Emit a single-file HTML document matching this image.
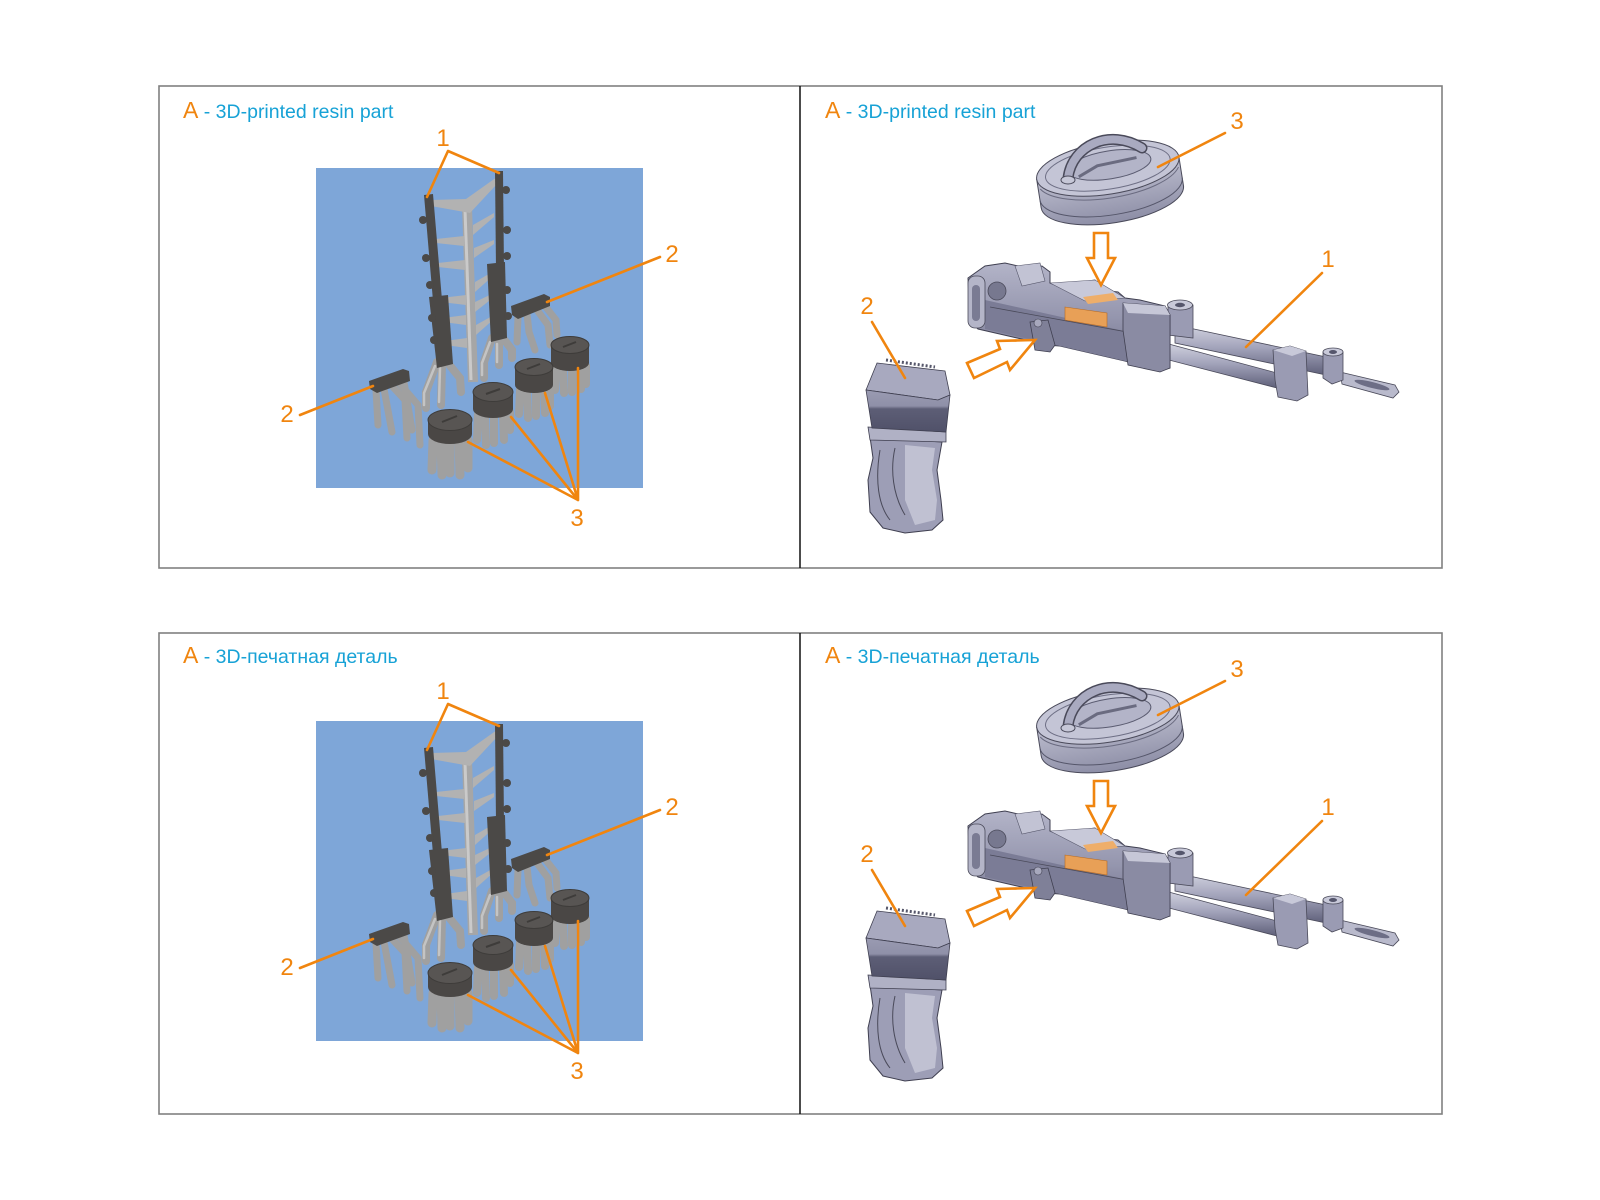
<!DOCTYPE html>
<html><head><meta charset="utf-8"><style>
html,body{margin:0;padding:0;background:#fff;}
svg{display:block;}
text{font-family:"Liberation Sans","DejaVu Sans",sans-serif;}
</style></head><body>
<svg width="1600" height="1200" viewBox="0 0 1600 1200" xmlns="http://www.w3.org/2000/svg">
<defs>
<linearGradient id="tube" x1="0" y1="0" x2="0" y2="1"><stop offset="0" stop-color="#d2d3e0"/><stop offset="0.45" stop-color="#a3a4bb"/><stop offset="1" stop-color="#5f607a"/></linearGradient>
<linearGradient id="front" x1="0" y1="0" x2="0" y2="1"><stop offset="0" stop-color="#9a9bb2"/><stop offset="0.38" stop-color="#8f90a8"/><stop offset="0.45" stop-color="#5d5e76"/><stop offset="1" stop-color="#505169"/></linearGradient>
<linearGradient id="drumside" x1="0" y1="0" x2="0" y2="1"><stop offset="0" stop-color="#bdbecf"/><stop offset="1" stop-color="#8d8ea6"/></linearGradient>
<linearGradient id="recv" x1="0" y1="0" x2="0" y2="1"><stop offset="0" stop-color="#b3b4c8"/><stop offset="0.5" stop-color="#9596ae"/><stop offset="1" stop-color="#6c6d86"/></linearGradient>

<g id="figL">
 <rect x="316" y="168" width="327" height="320" fill="#7ea6d8"/>
 <!-- supports under ladder -->
 <g stroke="#a0a0a0" stroke-width="8" stroke-linecap="round" fill="none">
  <path d="M437,362 L426,392 L426,408"/>
  <path d="M442,364 L441,405"/>
  <path d="M447,362 L460,378 L461,392"/>
  <path d="M492,338 L484,362 L484,378"/>
  <path d="M499,340 L499,365"/>
  <path d="M503,338 L512,350 L512,358"/>
 </g>
 <g stroke="#c4c4c4" stroke-width="2.5" stroke-linecap="round" fill="none">
  <path d="M435,366 L424,393 L424,405"/>
  <path d="M440,368 L439,402"/>
  <path d="M490,342 L482,363 L482,375"/>
  <path d="M497,344 L497,362"/>
 </g>
 <!-- center column -->
 <path d="M467,207 L473,382" stroke="#a6a6a6" stroke-width="10" fill="none"/>
 <path d="M465,210 L471,380" stroke="#cacaca" stroke-width="3" fill="none"/>
 <!-- rungs -->
 <g fill="#b2b2b2">
  <polygon points="431,200 466,199 497,177 497,184 470,213 431,206"/>
  <polygon points="436,239 464,236 464,246 436,243"/>
  <polygon points="438,263 465,260 465,270 438,267"/>
  <polygon points="441,298 466,295 466,305 441,302"/>
  <polygon points="443,318 466,315 466,325 443,322"/>
  <polygon points="445,341 467,338 467,348 445,345"/>
  <polygon points="473,225 494,213 494,217 473,235"/>
  <polygon points="474,248 494,240 494,244 474,258"/>
  <polygon points="475,282 494,271 494,275 475,292"/>
  <polygon points="475,302 494,293 494,297 475,312"/>
  <polygon points="476,325 494,315 494,319 476,335"/>
 </g>
 <!-- dark columns -->
 <g fill="#4b4947">
  <polygon points="424,195 433,194 442,300 433,301"/>
  <polygon points="429,297 448,295 453,364 437,368"/>
  <circle cx="423" cy="220" r="4"/><circle cx="426" cy="258" r="4"/><circle cx="430" cy="285" r="4"/><circle cx="432" cy="318" r="4"/><circle cx="434" cy="340" r="4"/>
  <polygon points="495,171 503,171 504,270 496,270"/>
  <polygon points="487,264 505,262 507,338 491,342"/>
  <circle cx="506" cy="190" r="4"/><circle cx="507" cy="230" r="4"/><circle cx="507" cy="256" r="4"/><circle cx="507" cy="290" r="4"/><circle cx="508" cy="316" r="4"/>
 </g>
 <!-- part 2 right -->
 <g stroke="#a0a0a0" stroke-width="7" stroke-linecap="round" fill="none">
  <path d="M518,317 L517,342"/>
  <path d="M527,314 L529,332 L535,350"/>
  <path d="M537,310 L548,325 L550,345"/>
  <path d="M545,306 L556,320 L557,335"/>
 </g>
 <polygon points="511,306 544,294 550,297 550,306 518,319 512,315" fill="#4b4947"/>
 <!-- part 2 left -->
 <g stroke="#a0a0a0" stroke-width="7" stroke-linecap="round" fill="none">
  <path d="M376,390 L378,425"/>
  <path d="M384,389 L392,432"/>
  <path d="M392,386 L405,400 L407,438"/>
  <path d="M400,384 L418,405 L420,445"/>
  <path d="M404,382 L412,430"/>
 </g>
 <polygon points="369,381 403,369 409,371 410,381 377,393 370,389" fill="#4b4947"/>
 <!-- stools D, C, B, A -->
 <g stroke="#a0a0a0" stroke-width="8" stroke-linecap="round" fill="none">
  <path d="M556,368 L555,390"/><path d="M563,370 L564,393"/><path d="M572,370 L572,392"/><path d="M580,368 L581,389"/><path d="M586,366 L586,384"/>
 </g>
 <path d="M551,345 L551,363 A19,8 0 0 0 589,363 L589,345 Z" fill="#4a4745"/>
 <ellipse cx="570" cy="345" rx="19" ry="8.5" fill="#585553" stroke="#3e3c3a"/>
 <path d="M563,347 L576,342" stroke="#3e3c3a" stroke-width="2"/>
 <g stroke="#a0a0a0" stroke-width="8" stroke-linecap="round" fill="none">
  <path d="M520,390 L519,414"/><path d="M527,392 L528,418"/><path d="M536,392 L536,416"/><path d="M544,390 L545,413"/><path d="M550,388 L550,406"/>
 </g>
 <path d="M515,367 L515,385 A19,8 0 0 0 553,385 L553,367 Z" fill="#4a4745"/>
 <ellipse cx="534" cy="367" rx="19" ry="8.5" fill="#585553" stroke="#3e3c3a"/>
 <path d="M527,369 L540,364" stroke="#3e3c3a" stroke-width="2"/>
 <g stroke="#a0a0a0" stroke-width="8" stroke-linecap="round" fill="none">
  <path d="M478,414 L477,440"/><path d="M485,416 L486,445"/><path d="M494,416 L494,443"/><path d="M503,414 L504,440"/><path d="M510,412 L510,430"/>
 </g>
 <path d="M473,392 L473,409 A20,9 0 0 0 513,409 L513,392 Z" fill="#4a4745"/>
 <ellipse cx="493" cy="392" rx="20" ry="9.5" fill="#585553" stroke="#3e3c3a"/>
 <path d="M486,394 L500,389" stroke="#3e3c3a" stroke-width="2"/>
 <g stroke="#a0a0a0" stroke-width="9" stroke-linecap="round" fill="none">
  <path d="M433,440 L432,470"/><path d="M441,442 L442,475"/><path d="M450,443 L450,473"/><path d="M459,442 L460,475"/><path d="M468,440 L468,468"/>
 </g>
 <path d="M428,420 L428,434 A22,10 0 0 0 472,434 L472,420 Z" fill="#4a4745"/>
 <ellipse cx="450" cy="420" rx="22" ry="10.5" fill="#585553" stroke="#3e3c3a"/>
 <path d="M442,422 L457,416" stroke="#3e3c3a" stroke-width="2"/>
 <!-- label lines -->
 <g stroke="#f0850f" stroke-width="2.6" fill="none" stroke-linecap="round" stroke-linejoin="round">
  <path d="M427,197 L448,151 L499,173"/>
  <path d="M660,257 L547,302"/>
  <path d="M300,415 L373,386"/>
  <path d="M468,442 L578,500 L511,417 M578,500 L545,393 M578,500 L578,368"/>
 </g>
</g>

<g id="figR">
 <!-- drum -->
 <g transform="rotate(-9 1110 182)">
  <path d="M1038,168 L1038,197 A72,26 0 0 0 1182,197 L1182,168 Z" fill="url(#drumside)" stroke="#4a4a5a" stroke-width="1"/>
  <path d="M1038,189 A72,26 0 0 0 1182,189" fill="none" stroke="#55566a" stroke-width="1"/>
  <path d="M1040,178 A72,26 0 0 0 1180,178" fill="none" stroke="#6a6b80" stroke-width="1"/>
  <ellipse cx="1110" cy="168" rx="72" ry="26" fill="#c4c5d6" stroke="#4a4a5a" stroke-width="1"/>
  <ellipse cx="1110" cy="168" rx="63" ry="21" fill="none" stroke="#6e6f85" stroke-width="1"/>
  <ellipse cx="1112" cy="165" rx="42" ry="14" fill="#b3b4c8" stroke="#5a5b70" stroke-width="1"/>
  <path d="M1080,172 L1100,164 L1140,162" stroke="#6a6b80" stroke-width="3" fill="none"/>
 </g>
 <path d="M1068,178 C1072,145 1110,128 1142,148" fill="none" stroke="#4a4a5a" stroke-width="11" stroke-linecap="round"/>
 <path d="M1068,178 C1072,145 1110,128 1142,148" fill="none" stroke="#a9aac0" stroke-width="8" stroke-linecap="round"/>
 <ellipse cx="1068" cy="180" rx="7" ry="4" fill="#c6c7d7" stroke="#4a4a5a"/>

 <!-- barrel -->
 <polygon points="1165,343 1277,373 1277,388 1165,359" fill="url(#tube)" stroke="#4a4a5a" stroke-width="0.8"/>
 <polygon points="1175,325 1326,357 1326,375 1175,343" fill="url(#tube)" stroke="#4a4a5a" stroke-width="0.8"/>
 <polygon points="1340,372 1395,385 1399,392 1393,398 1342,384" fill="#b9bacc" stroke="#4a4a5a" stroke-width="0.8"/>
 <ellipse cx="1372" cy="385" rx="18" ry="3" fill="#6d6e86" transform="rotate(14 1372 385)"/>
 <path d="M1323,352 L1323,378 L1332,384 L1343,380 L1343,352 Z" fill="#9a9bb3" stroke="#4a4a5a" stroke-width="0.8"/>
 <ellipse cx="1333" cy="352" rx="10" ry="4" fill="#c8c9d9" stroke="#4a4a5a" stroke-width="0.8"/>
 <ellipse cx="1333" cy="352" rx="4" ry="2" fill="#55566c"/>
 <polygon points="1273,350 1290,346 1306,351 1308,395 1297,401 1278,397 1275,380" fill="#9a9bb3" stroke="#4a4a5a" stroke-width="0.8"/>
 <polygon points="1273,350 1290,346 1306,351 1292,356" fill="#c8c9d9"/>
 <path d="M1168,305 L1168,335 L1193,338 L1193,305 Z" fill="#9a9bb3" stroke="#4a4a5a" stroke-width="0.8"/>
 <ellipse cx="1180" cy="305" rx="12.5" ry="5" fill="#c8c9d9" stroke="#4a4a5a" stroke-width="0.8"/>
 <ellipse cx="1180" cy="305" rx="5" ry="2.2" fill="#55566c"/>

 <!-- receiver -->
 <polygon points="968,278 985,266 1005,263 1018,266 1030,268 1042,266 1050,272 1050,283 1060,287 1075,283 1095,280 1100,290 1118,292 1125,298 1140,300 1165,306 1170,315 1170,368 1160,371 1125,361 1060,346 1045,345 1030,341 978,329 970,321" fill="url(#recv)" stroke="#3f3f50" stroke-width="1"/>
 <polygon points="985,300 1165,340 1165,369 1125,361 1060,346 985,329" fill="#7b7c96"/>
 <polygon points="1050,283 1095,280 1125,298 1085,301" fill="#c8c9d9" stroke="#55566a" stroke-width="0.6"/>
 <polygon points="1015,266 1040,263 1045,281 1022,286" fill="#c2c3d4" stroke="#55566a" stroke-width="0.6"/>
 <rect x="968" y="276" width="17" height="52" rx="7" fill="#b4b5c8" stroke="#4a4a5a" stroke-width="0.8"/>
 <rect x="972" y="285" width="8" height="36" rx="4" fill="#7a7b93"/>
 <circle cx="997" cy="291" r="9" fill="#77788f" stroke="#4a4a5a" stroke-width="0.8"/>
 <path d="M990,307 L1160,338" stroke="#4a4a5a" stroke-width="0.8"/>
 <polygon points="1123,303 1165,306 1170,315 1170,368 1160,372 1128,365 1123,330" fill="#8a8ba3" stroke="#3f3f50" stroke-width="0.8"/>
 <polygon points="1123,303 1165,306 1170,315 1128,313" fill="#c6c7d7"/>
 <polygon points="1030,322 1048,320 1055,345 1050,352 1035,350" fill="#7f8098" stroke="#3f3f50" stroke-width="0.8"/>
 <circle cx="1038" cy="323" r="4" fill="#a7a8bd" stroke="#3f3f50" stroke-width="0.6"/>
 <polygon points="1065,307 1107,313 1107,327 1065,320" fill="#e8a057" stroke="#b86a20" stroke-width="0.6"/>
 <polygon points="1083,297 1113,293 1118,300 1088,304" fill="#eeae6a"/>

 <!-- arrows -->
 <path d="M1094,233 L1108,233 L1108,258 L1115,258 L1101,285 L1087,258 L1094,258 Z" fill="#fff" stroke="#f0850f" stroke-width="2.6" stroke-linejoin="miter"/>
 <path d="M967,363 L1000,349 L997,341 L1035,340 L1010,370 L1007,362 L974,378 Z" fill="#fff" stroke="#f0850f" stroke-width="2.6" stroke-linejoin="miter"/>

 <!-- grip (part 2) -->
 <polygon points="870,437 942,442 937,470 941,500 943,520 932,530 905,533 883,528 870,512 868,480 873,458" fill="#9d9eb6" stroke="#3f3f50" stroke-width="1"/>
 <polygon points="905,445 935,448 932,470 937,500 935,520 915,525 905,500" fill="#c0c1d2"/>
 <path d="M880,450 C875,480 878,505 890,520 M895,448 C890,470 893,495 905,515" stroke="#4a4a5a" stroke-width="1" fill="none"/>
 <polygon points="868,427 946,432 946,442 870,440" fill="#b0b1c5" stroke="#3f3f50" stroke-width="0.8"/>
 <polygon points="877,363 945,371 950,395 938,400 866,390" fill="#a8a9bf" stroke="#3f3f50" stroke-width="0.8"/>
 <polygon points="866,390 938,400 950,395 946,432 872,428" fill="url(#front)" stroke="#3f3f50" stroke-width="0.8"/>
 <path d="M886,360 L935,367" stroke="#55566a" stroke-width="3" stroke-dasharray="2 2"/>

 <!-- label lines -->
 <g stroke="#f0850f" stroke-width="2.6" fill="none" stroke-linecap="round">
  <path d="M1225,133 L1158,167"/>
  <path d="M1322,273 L1246,347"/>
  <path d="M872,322 L905,378"/>
 </g>
</g>
</defs>

<!-- panels -->
<rect x="159" y="86" width="1283" height="482" fill="none" stroke="#808080" stroke-width="1.6"/>
<line x1="800" y1="86" x2="800" y2="568" stroke="#111" stroke-width="1.5"/>
<rect x="159" y="633" width="1283" height="481" fill="none" stroke="#808080" stroke-width="1.6"/>
<line x1="800" y1="633" x2="800" y2="1114" stroke="#111" stroke-width="1.5"/>

<use href="#figL"/>
<use href="#figR"/>
<use href="#figL" transform="translate(0,553)"/>
<use href="#figR" transform="translate(0,548)"/>

<!-- headers -->
<text x="183" y="118"><tspan fill="#f0850f" font-size="23">A</tspan><tspan fill="#17a2d6" font-size="19.5"> - 3D-printed resin part</tspan></text>
<text x="825" y="118"><tspan fill="#f0850f" font-size="23">A</tspan><tspan fill="#17a2d6" font-size="19.5"> - 3D-printed resin part</tspan></text>
<text x="183" y="663"><tspan fill="#f0850f" font-size="23">A</tspan><tspan fill="#17a2d6" font-size="19.5"> - 3D-печатная деталь</tspan></text>
<text x="825" y="663"><tspan fill="#f0850f" font-size="23">A</tspan><tspan fill="#17a2d6" font-size="19.5"> - 3D-печатная деталь</tspan></text>

<!-- number labels -->
<g fill="#f0850f" font-size="24" text-anchor="middle">
 <text x="443" y="146">1</text>
 <text x="672" y="262">2</text>
 <text x="287" y="422">2</text>
 <text x="577" y="526">3</text>
 <text x="1237" y="129">3</text>
 <text x="1328" y="267">1</text>
 <text x="867" y="314">2</text>

 <text x="443" y="699">1</text>
 <text x="672" y="815">2</text>
 <text x="287" y="975">2</text>
 <text x="577" y="1079">3</text>
 <text x="1237" y="677">3</text>
 <text x="1328" y="815">1</text>
 <text x="867" y="862">2</text>
</g>
</svg>
</body></html>
